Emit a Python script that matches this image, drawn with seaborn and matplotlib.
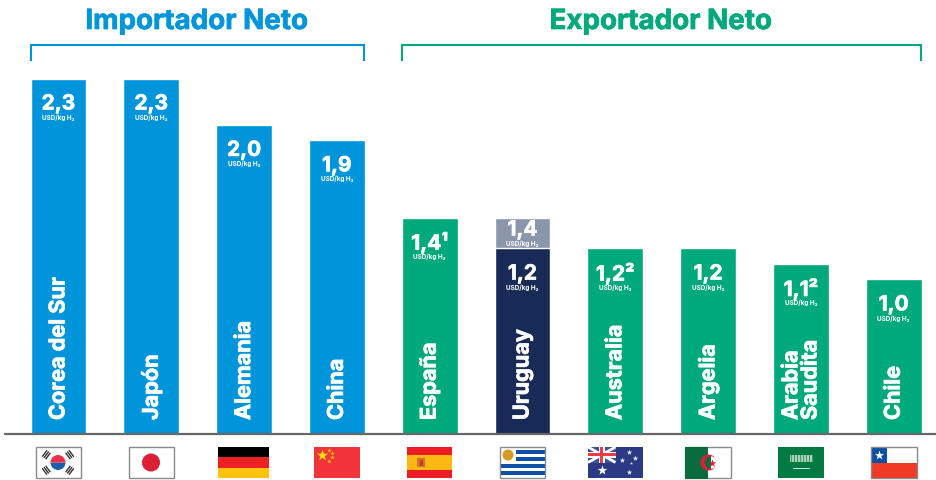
import matplotlib
matplotlib.use('Agg')
import matplotlib.pyplot as plt
import matplotlib.patheffects as pe
from matplotlib.patches import Rectangle, Circle, Wedge
import seaborn as sns
import pandas as pd

paises = ['Corea del Sur', 'Japón', 'Alemania', 'China', 'España', 'Uruguay',
          'Australia', 'Argelia', 'Arabia\nSaudita', 'Chile']
valores = [2.3, 2.3, 2.0, 1.9, 1.4, 1.4, 1.2, 1.2, 1.1, 1.0]
grupos = ['imp', 'imp', 'imp', 'imp', 'exp', 'uy', 'exp', 'exp', 'exp', 'exp']
etiquetas = ['2,3', '2,3', '2,0', '1,9', '1,4¹', '1,4', '1,2²', '1,2', '1,1²', '1,0']
uruguay_valor = [1.2]
uruguay_etiqueta = ['1,2']

AZUL = '#0095DA'
VERDE = '#00A97C'
NAVY = '#182B57'
GRIS = '#8B95AC'
UNIDAD = 'USD/kg H₂'

sns.set_theme(style='white')
plt.rcParams['font.family'] = ['Inter', 'DejaVu Sans']

df = pd.DataFrame({'pais': paises, 'valor': valores, 'grupo': grupos})

fig = plt.figure(figsize=(9.36, 4.8), dpi=100)
ax = fig.add_axes([0, 0, 1, 1])
sns.barplot(data=df, x='pais', y='valor', hue='grupo', order=paises, dodge=False,
            palette={'imp': AZUL, 'exp': VERDE, 'uy': GRIS}, width=0.6,
            legend=False, saturation=1, ax=ax)
# Uruguay tiene un segundo valor delante de la barra gris
sns.barplot(x=['Uruguay'], y=uruguay_valor, order=paises, color=NAVY, width=0.6,
            saturation=1, ax=ax)
ax.set_xlim(-0.630, 9.456)
ax.set_ylim(-0.298, 2.808)
ax.axis('off')
ax.axhline(0, xmin=5 / 936, color='#666666', lw=1.6, zorder=5)

# la fuente original es mas gruesa, se engorda un poco con un trazo
grueso = [pe.withStroke(linewidth=0.5, foreground='white')]


def valor_texto(x, v, txt, d1=-18, d2=-28):
    ax.annotate(txt, (x, v), xytext=(0, d1), textcoords='offset points', ha='center',
                va='center', color='white', fontsize=15, fontweight='bold', path_effects=grueso)
    ax.annotate(UNIDAD, (x, v), xytext=(0, d2), textcoords='offset points', ha='center',
                va='center', color='white', fontsize=4.6, fontweight='bold')


for i, (p, v, t) in enumerate(zip(paises, valores, etiquetas)):
    if p == 'Uruguay':
        valor_texto(i, v, t, -8.5, -18.5)
        valor_texto(i, uruguay_valor[0], uruguay_etiqueta[0])
    else:
        valor_texto(i, v, t)
    ax.annotate(p, (i, 0), xytext=(0, 10), textcoords='offset points', rotation=90,
                ha='center', va='bottom', multialignment='left', color='white',
                fontsize=15.6, fontweight='bold', linespacing=0.95, path_effects=grueso)

# capa en pixeles para titulos, corchetes y banderas
top = fig.add_axes([0, 0, 1, 1], facecolor='none')
top.set_xlim(0, 936)
top.set_ylim(480, 0)
top.axis('off')

top.text(197, 22, 'Importador Neto', color=AZUL, fontsize=20, fontweight='bold',
         ha='center', va='center', path_effects=[pe.withStroke(linewidth=0.5, foreground=AZUL)])
top.text(661, 22, 'Exportador Neto', color=VERDE, fontsize=20, fontweight='bold',
         ha='center', va='center', path_effects=[pe.withStroke(linewidth=0.5, foreground=VERDE)])
top.plot([30.5, 30.5, 364, 364], [61, 45, 45, 61], color=AZUL, lw=1.5,
         solid_joinstyle='miter', solid_capstyle='butt')
top.plot([402, 402, 921, 921], [61, 45, 45, 61], color=VERDE, lw=1.5,
         solid_joinstyle='miter', solid_capstyle='butt')


def rect(x, y, w, h, c, z=3):
    top.add_patch(Rectangle((x, y), w, h, fc=c, ec='none', zorder=z))


def marco(x, w):
    top.add_patch(Rectangle((x, 447), w, 31, fc='none', ec='#8a8a8a', lw=1, zorder=6))


def estrella(x, y, s, c='white', z=7):
    top.scatter([x], [y], marker='*', s=s, color=c, linewidths=0, zorder=z)


# Corea del Sur
rect(35.5, 447, 45, 31, 'white')
marco(35.5, 45)
top.add_patch(Wedge((58, 462.5), 7.5, 0, 180, fc='#1B5FAA', ec='none', zorder=4))
top.add_patch(Wedge((58, 462.5), 7.5, 180, 360, fc='#E8314A', ec='none', zorder=4))
for sx, sy in [(-1, -1), (1, -1), (-1, 1), (1, 1)]:
    for d in (0, 2.1, 4.2):
        cx = 58 + sx * (10.0 + d * 0.8)
        cy = 462.5 + sy * (6.5 + d * 0.6)
        # barra perpendicular a la diagonal
        top.plot([cx - 2.4 * sx * sy, cx + 2.4 * sx * sy], [cy + 3.2, cy - 3.2],
                 color='#333333', lw=1.0, zorder=5, solid_capstyle='butt')

# Japon
rect(128.5, 447, 45, 31, 'white')
marco(128.5, 45)
top.add_patch(Circle((151, 462.5), 9, fc='#DA1F36', ec='none', zorder=4))

# Alemania
rect(218, 447, 51, 10.4, '#000000')
rect(218, 457.4, 51, 10.3, '#ED2224')
rect(218, 467.7, 51, 10.3, '#FFC20E')

# China
rect(314, 447, 46, 31, '#F1333A')
estrella(321.5, 454.5, 75, '#FFDE00')
for sx, sy in [(329, 450), (331.5, 453), (331.5, 457), (329, 460.5)]:
    estrella(sx, sy, 10, '#FFDE00')

# España
rect(407, 447, 45, 8, '#ED1C24')
rect(407, 455, 45, 15, '#FDB813')
rect(407, 470, 45, 8, '#ED1C24')
rect(417, 458, 8, 9, '#C8742A', 4)
rect(419.5, 459.5, 3, 6, '#D5352B', 5)

# Uruguay
rect(499.5, 447, 45.5, 31, 'white')
for fila in (1, 3, 5, 7):
    y = 447 + fila * 31 / 9
    x0 = 515.5 if fila < 5 else 499.5
    rect(x0, y, 545 - x0, 31 / 9, '#0B50A4')
marco(499.5, 45.5)
top.add_patch(Circle((508, 455), 5.5, fc='#D89A22', ec='none', zorder=4))

# Australia
rect(588, 447, 55, 31, '#2B3A85')
rect(588, 447, 27.5, 15.5, '#3F4E9A', 4)
top.plot([588, 615.5], [447, 462.5], color='white', lw=2, zorder=5, solid_capstyle='butt')
top.plot([588, 615.5], [462.5, 447], color='white', lw=2, zorder=5, solid_capstyle='butt')
rect(599, 447, 5.5, 15.5, 'white', 5)
rect(588, 452, 27.5, 5.5, 'white', 5)
rect(600.2, 447, 3, 15.5, '#EE3B45', 6)
rect(588, 453.2, 27.5, 3, '#EE3B45', 6)
estrella(601.5, 469.5, 55)
for sx, sy, ss in [(628.5, 452, 16), (622, 460, 16), (634.5, 458, 16), (629, 472, 16), (631, 463, 5)]:
    estrella(sx, sy, ss)

# Argelia
rect(708, 447, 23, 31, 'white')
marco(685, 46)
rect(685, 446.5, 23, 32, '#0A6B3E', 7)
top.add_patch(Circle((708.5, 462.5), 8, fc='#DA1F36', ec='none', zorder=8))
top.add_patch(Wedge((711, 462.5), 6.2, 90, 270, fc='#0A6B3E', ec='none', zorder=9))
top.add_patch(Wedge((711, 462.5), 6.2, 270, 90, fc='white', ec='none', zorder=9))
estrella(711.5, 462.5, 35, '#DA1F36', 10)

# Arabia Saudita
rect(778, 447, 46, 31, '#047A43')
rect(790, 455, 23, 7, '#A9CFB8', 4)
for xx in range(791, 813, 3):
    rect(xx, 455, 1, 7, '#3F9A6C', 5)
rect(793, 468, 17, 1, '#CFE5D8', 4)

# Chile
rect(871, 447, 46, 15.5, 'white')
rect(871, 462.5, 46, 15.5, '#F03A24')
rect(871, 447, 16, 15.5, '#0B50A4', 4)
marco(871, 46)
estrella(879, 455, 50)

fig.savefig('out.png', dpi=100)
